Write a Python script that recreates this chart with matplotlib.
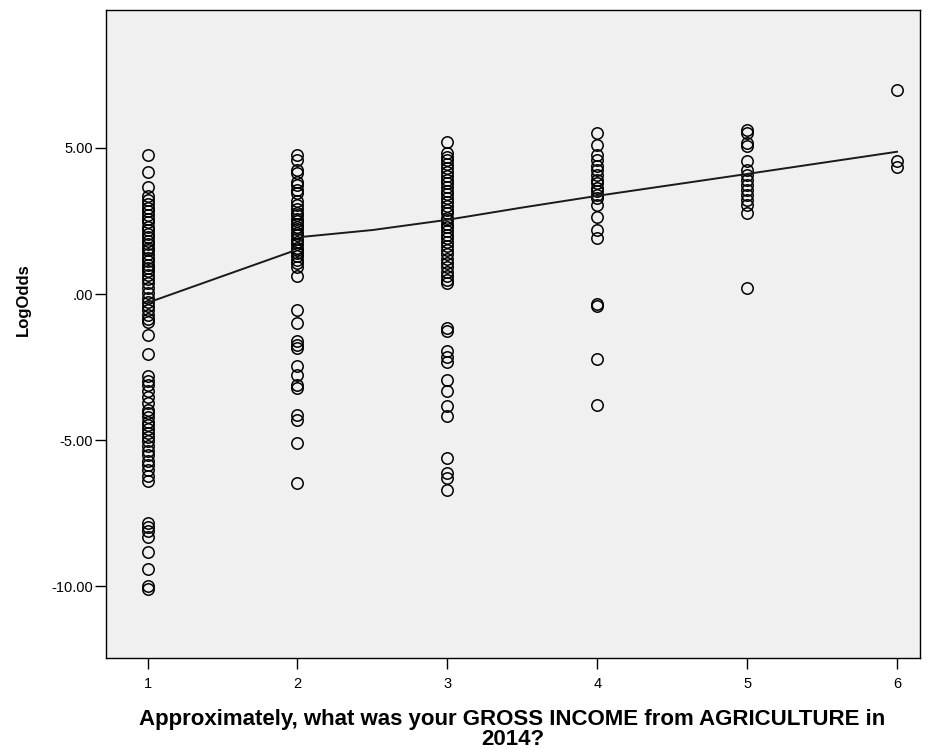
import numpy as np
import matplotlib.pyplot as plt

plt.rcParams['font.family'] = ['Liberation Sans', 'DejaVu Sans']

# LogOdds by income category
income_1 = [4.77, 4.18, 3.65, 3.34,
            3.22, 3.08, 2.96, 2.83, 2.71, 2.58, 2.47, 2.31, 2.19, 2.06, 1.94, 1.82,
            1.71, 1.58, 1.49, 1.36, 1.24, 1.13, 1.01, 0.88, 0.79, 0.64, 0.51, 0.36,
            0.22, 0.04, -0.12, -0.27, -0.41, -0.56, -0.72, -0.84, -0.96,
            -1.39, -2.05,
            -2.82, -2.97, -3.12, -3.31, -3.52, -3.74, -3.96, -4.08, -4.21, -4.37,
            -4.49, -4.62, -4.77, -4.91, -5.04, -5.19, -5.36, -5.52, -5.71, -5.86,
            -6.04, -6.23, -6.41,
            -7.83, -7.97, -8.12, -8.30, -8.83, -9.41, -9.98, -10.10]
income_2 = [4.77, 4.60, 4.26, 4.14, 3.85, 3.74, 3.57, 3.46,
            3.17, 3.04, 2.91, 2.79, 2.71, 2.58, 2.49, 2.41, 2.28, 2.21, 2.09, 2.02,
            1.88, 1.79, 1.71, 1.58, 1.49, 1.41, 1.29, 1.18, 1.07, 0.94,
            0.60, -0.54, -0.99, -1.62, -1.74, -1.85, -2.48, -2.76, -3.10, -3.22,
            -4.13, -4.30, -5.10, -6.47]
income_3 = [5.22, 4.83, 4.69, 4.58, 4.44, 4.31, 4.18, 4.04, 3.91, 3.79, 3.66,
            3.52, 3.41, 3.28, 3.14, 3.02, 2.88, 2.76, 2.61, 2.52, 2.39, 2.28, 2.16,
            2.03, 1.92, 1.78, 1.66, 1.51, 1.37, 1.21, 1.06, 0.92, 0.77, 0.61, 0.48,
            0.38,
            -1.16, -1.26, -1.96, -2.14, -2.31, -2.94, -3.33, -3.85, -4.19, -5.61,
            -6.13, -6.30, -6.70]
income_4 = [5.51, 5.11, 4.77, 4.60, 4.37, 4.25, 4.08, 3.91, 3.80, 3.63, 3.51,
            3.40, 3.29, 3.06, 2.62, 2.20, 1.92, -0.33, -0.40, -2.22, -3.79]
income_5 = [5.62, 5.51, 5.17, 5.05, 4.54, 4.25, 4.08, 3.91, 3.74, 3.57, 3.40,
            3.23, 3.06, 2.77, 0.21]
income_6 = [6.99, 4.54, 4.35]

# fit line through the categories
fit_x = [1, 1.96, 2.04, 2.5, 3, 3.5, 4, 5, 6]
fit_y = [-0.30, 1.45, 1.96, 2.19, 2.54, 2.96, 3.36, 4.11, 4.87]

groups = [income_1, income_2, income_3, income_4, income_5, income_6]

fig = plt.figure(figsize=(9.26, 7.5), dpi=100)
ax = fig.add_axes([0.114, 0.123, 0.879, 0.864])
ax.set_facecolor('#f0f0f0')

for i, vals in enumerate(groups, start=1):
    xs = np.full(len(vals), i)
    ax.plot(xs, vals, linestyle='none', marker='o', markersize=8.2,
            markerfacecolor='none', markeredgecolor='black', markeredgewidth=1.1)

ax.plot(fit_x, fit_y, color='#1a1a1a', linewidth=1.4)

ax.set_xlim(0.72, 6.15)
ax.set_ylim(-12.45, 9.73)
ax.set_xticks([1, 2, 3, 4, 5, 6])
ax.set_yticks([5, 0, -5, -10])
ax.set_yticklabels(['5.00', '.00', '-5.00', '-10.00'])

for s in ax.spines.values():
    s.set_color('black')
    s.set_linewidth(1.0)
ax.tick_params(axis='both', direction='out', length=8, width=1.0, colors='black',
               labelsize=10.5)
ax.tick_params(axis='x', pad=6)
ax.tick_params(axis='y', pad=1)

ax.set_ylabel('LogOdds', fontsize=12, fontweight='bold')
ax.yaxis.set_label_coords(-0.092, 0.552)
ax.set_xlabel('Approximately, what was your GROSS INCOME from AGRICULTURE in\n2014?',
              fontsize=16, fontweight='bold', linespacing=0.9, labelpad=13)

fig.savefig('out.png', dpi=100)
